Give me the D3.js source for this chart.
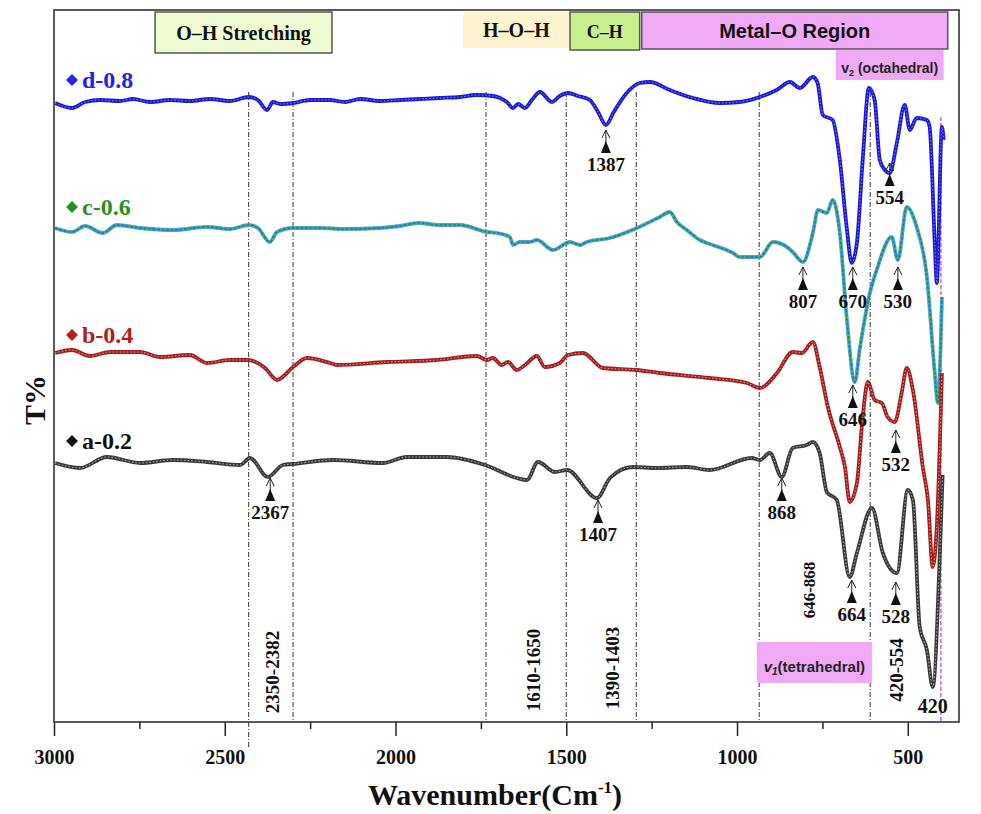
<!DOCTYPE html>
<html><head><meta charset="utf-8">
<script src="https://cdn.jsdelivr.net/npm/d3@7/dist/d3.min.js"></script>
<style>body{margin:0;background:#fff}svg{display:block}</style>
</head><body>
<svg id="chart" width="981" height="814"></svg>
<script>
// ---- data: [wavenumber (cm-1), T% (arbitrary offset units)] ----
const seriesD = [[2997,61.9],[2947,61.4],[2909,62.0],[2865,62.2],[2807,62.1],[2769,62.3],[2719,62.0],[2660,62.2],[2602,62.1],[2543,62.3],[2485,62.1],[2429,62.5],[2403,62.2],[2376,61.2],[2359,62.0],[2338,61.8],[2300,61.9],[2251,62.2],[2192,62.2],[2148,62.0],[2104,62.3],[2046,62.1],[1987,62.2],[1929,62.3],[1870,62.4],[1811,62.5],[1762,62.7],[1715,62.6],[1694,62.4],[1674,62.0],[1656,61.4],[1641,61.8],[1621,61.4],[1601,62.2],[1577,63.0],[1542,62.0],[1519,62.6],[1495,62.9],[1466,62.6],[1431,62.2],[1407,61.0],[1384,59.7],[1361,61.0],[1323,62.9],[1285,63.9],[1255,64.0],[1197,63.2],[1129,62.4],[1050,61.9],[992,62.0],[933,62.5],[884,63.2],[845,64.0],[816,63.4],[778,64.5],[764,63.9],[749,60.7],[720,60.2],[699,56.2],[679,49.5],[664,45.9],[649,47.9],[632,56.2],[614,63.4],[597,62.2],[582,56.2],[567,55.2],[553,54.9],[532,57.9],[509,61.7],[494,59.2],[474,60.4],[444,60.2],[436,59.5],[421,47.9],[415,43.9],[400,59.5],[395,58.2]];
const seriesC = [[2997,49.4],[2947,49.0],[2909,49.6],[2857,48.9],[2816,49.7],[2748,49.4],[2652,49.2],[2552,49.5],[2485,49.3],[2429,49.7],[2403,49.4],[2368,48.0],[2347,49.0],[2300,49.4],[2221,49.4],[2148,49.3],[2046,49.4],[1987,49.6],[1934,49.9],[1870,49.7],[1811,49.7],[1732,49.0],[1703,48.9],[1665,48.5],[1656,47.7],[1636,48.0],[1607,48.0],[1586,48.2],[1539,47.2],[1489,48.0],[1460,47.7],[1440,48.0],[1372,48.4],[1293,49.4],[1226,50.5],[1197,51.0],[1176,50.0],[1147,49.2],[1109,48.2],[1071,47.7],[1012,46.9],[992,46.5],[933,46.5],[895,48.0],[854,47.5],[837,47.0],[807,46.0],[778,48.9],[763,51.2],[737,50.9],[720,52.2],[699,48.9],[679,40.5],[655,34.0],[641,37.2],[611,42.9],[591,45.2],[547,48.5],[529,46.2],[503,51.5],[474,49.5],[444,44.5],[421,34.9],[412,31.9],[400,42.5]];
const seriesB = [[2997,36.9],[2947,37.2],[2895,36.6],[2836,37.0],[2748,37.0],[2690,36.5],[2602,36.7],[2552,35.9],[2485,36.2],[2432,36.2],[2382,35.4],[2347,34.2],[2300,35.5],[2259,36.4],[2192,35.9],[2172,35.7],[2025,36.0],[1879,36.2],[1762,36.6],[1732,36.2],[1715,36.4],[1689,35.7],[1671,36.0],[1645,35.2],[1621,35.7],[1586,36.6],[1563,35.5],[1519,35.9],[1495,36.7],[1451,36.9],[1393,35.4],[1293,35.2],[1226,34.9],[1080,34.4],[971,33.9],[933,33.4],[883,34.9],[837,37.0],[810,36.9],[778,38.0],[758,35.5],[734,31.5],[699,27.5],[684,25.5],[670,22.0],[649,23.9],[632,30.5],[617,34.0],[597,32.2],[576,31.9],[559,30.5],[538,30.0],[518,32.9],[503,35.4],[485,33.2],[456,25.5],[441,22.2],[427,15.5],[415,19.5],[400,34.9]];
const seriesA = [[2997,25.9],[2924,25.4],[2845,26.5],[2748,25.9],[2652,26.2],[2552,26.0],[2455,25.7],[2426,26.4],[2374,24.5],[2330,25.7],[2300,25.8],[2183,26.2],[2037,25.9],[1967,26.5],[1850,26.5],[1738,25.7],[1645,24.4],[1615,24.2],[1583,26.0],[1533,25.0],[1498,25.2],[1410,22.4],[1372,24.4],[1305,25.5],[1235,25.4],[1147,25.5],[1080,25.2],[957,26.4],[933,26.2],[904,26.9],[869,24.5],[837,27.4],[796,27.7],[778,28.0],[758,26.9],[737,23.0],[708,22.2],[670,14.5],[649,16.9],[605,21.4],[573,16.9],[532,14.9],[500,23.2],[485,22.2],[465,9.5],[444,7.2],[427,3.5],[406,16.9],[398,24.7]];

const seriesNames = ["d-0.8","c-0.6","b-0.4","a-0.2"];
const seriesLabelPos = [[2918,63.4],[2918,50.7],[2918,37.9],[2918,27.3]];
const majorTicks = [3000,2500,2000,1500,1000,500];
const minorTicks = [2750,2250,1750,1250,750];
const refLines = [2430,2300,1735,1500,1295,935,610];
const octLine = 403;
// peak annotations: [label, wavenumber, arrow-tip value]
const peaks = [["1387",1384,59.2],["554",553,55.9],["807",807,45.5],["670",661,45.5],["530",529,45.5],["646",661,33.7],["532",535,29.2],["868",869,24.4],["1407",1407,22.2],["2367",2367,24.4],["664",664,14.2],["528",535,14.0]];
const lone = [["420",427,0.9]];
const rangeLabels = [["2350-2382",2359,5.0],["1610-1650",1595,5.2],["1390-1403",1364,5.4],["646-868",787,13.2],["420-554",532,5.2]];
// band boxes: [label, w0, w1, vTop, vBottom]
const bands = [["O–H Stretching",2704,2186,71.0,66.9],["H–O–H",1803,1489,71.0,67.4],["C–H",1489,1285,71.0,67.2],["Metal–O Region",1279,383,71.0,67.3]];

const svg = d3.select("#chart");
svg.append("rect").attr("width",981).attr("height",814).attr("fill","#fff");
const x = d3.scaleLinear().domain([3000,350]).range([54,959]);
const y = d3.scaleLinear().domain([0,71.2]).range([722,10]);
const serif = "'Liberation Serif','Times New Roman',serif";
const sans = "'Liberation Sans',Arial,sans-serif";

// reference lines
svg.append("g").selectAll("line").data(refLines).join("line")
  .attr("x1",d=>x(d)).attr("x2",d=>x(d)).attr("y1",y(63)).attr("y2",(d,i)=>i===0?748:y(0))
  .attr("stroke","#333").attr("stroke-width",1).attr("stroke-dasharray","5,2,1,2");
svg.append("line").attr("x1",x(octLine)).attr("x2",x(octLine)).attr("y1",y(60.5)).attr("y2",y(0))
  .attr("stroke","#c24ee0").attr("stroke-width",1.3).attr("stroke-dasharray","4,2");

// band boxes
const bandFill = ["#effcd3","#fdf4cf","#c9ef8e","#efa9f5"];
const bandStroke = ["#555","none","#555","#555"];
const bandFont = [serif,serif,serif,sans];
const bandSize = [20,20,18,20];
const bg = svg.append("g");
bands.forEach((b,i)=>{
  bg.append("rect").attr("x",x(b[1])).attr("y",y(b[3])).attr("width",x(b[2])-x(b[1])).attr("height",y(b[4])-y(b[3]))
    .attr("fill",bandFill[i]).attr("stroke",bandStroke[i]).attr("stroke-width",1.5);
  bg.append("text").attr("x",(x(b[1])+x(b[2]))/2).attr("y",(y(b[3])+y(b[4]))/2+7)
    .attr("text-anchor","middle").attr("font-family",bandFont[i]).attr("font-weight","bold")
    .attr("font-size",bandSize[i]).attr("fill","#111").text(b[0]);
});
// v2 octahedral box
bg.append("rect").attr("x",x(711)).attr("y",y(67.2)).attr("width",x(395)-x(711)).attr("height",y(64.2)-y(67.2)).attr("fill","#efa9f5");
const t2 = bg.append("text").attr("x",(x(711)+x(395))/2).attr("y",y(64.9)).attr("text-anchor","middle")
  .attr("font-family",sans).attr("font-weight","bold").attr("font-size",14).attr("fill","#222");
t2.append("tspan").text("v");
t2.append("tspan").attr("font-size",9).attr("dy",3).text("2");
t2.append("tspan").attr("dy",-3).text(" (octahedral)");
// v1 tetrahedral box
bg.append("rect").attr("x",x(942)).attr("y",y(8.0)).attr("width",x(605)-x(942)).attr("height",y(3.9)-y(8.0)).attr("fill","#efa9f5");
const t1 = bg.append("text").attr("x",(x(942)+x(605))/2).attr("y",y(5.0)).attr("text-anchor","middle")
  .attr("font-family",sans).attr("font-weight","bold").attr("font-size",15).attr("fill","#222");
t1.append("tspan").attr("font-style","italic").text("v");
t1.append("tspan").attr("font-style","italic").attr("font-size",10).attr("dy",3).text("1");
t1.append("tspan").attr("dy",-3).text("(tetrahedral)");

// curves
const line = d3.line().x(d=>x(d[0])).y(d=>y(d[1])).curve(d3.curveMonotoneX);
const all = [seriesD,seriesC,seriesB,seriesA];
const outer = ["#1818d8","#45a2e4","#a41c1c","#383838"];
const inner = ["#8a8af8","#2b8a2b","#eaa0a0","#b8b8b8"];
const innerW = [1,1.6,1,1];
const innerDash = ["1.5,2","3,1.5","1.5,2","1.5,2"];
const labelCol = ["#2323e6","#239223","#b01e1e","#111"];
const cg = svg.append("g");
all.forEach((s,i)=>{
  cg.append("path").attr("d",line(s)).attr("fill","none").attr("stroke",outer[i]).attr("stroke-width",3.8).attr("stroke-linejoin","round");
  cg.append("path").attr("d",line(s)).attr("fill","none").attr("stroke",inner[i]).attr("stroke-width",innerW[i])
    .attr("stroke-dasharray",innerDash[i]);
});

// series labels
seriesNames.forEach((n,i)=>{
  const p = seriesLabelPos[i];
  svg.append("path").attr("d",d3.symbol(d3.symbolDiamond2,90)())
    .attr("transform",`translate(${x(p[0])-10},${y(p[1])-8})`).attr("fill",labelCol[i]);
  svg.append("text").attr("x",x(p[0])).attr("y",y(p[1])).attr("font-family",serif).attr("font-weight","bold")
    .attr("font-size",24).attr("fill",labelCol[i]).text(n);
});

// peak arrows
const pg = svg.append("g");
peaks.forEach(p=>{
  const g = pg.append("g").attr("transform",`translate(${x(p[1])},${y(p[2])})`);
  g.append("path").attr("d","M-4,8L0,0L4,8M0,0L0,13").attr("fill","none").attr("stroke","#222").attr("stroke-width",1);
  g.append("path").attr("d","M-5,23L0,11L5,23Z").attr("fill","#111");
  g.append("text").attr("x",0).attr("y",41).attr("text-anchor","middle").attr("font-family",serif)
    .attr("font-weight","bold").attr("font-size",19).attr("fill","#111").text(p[0]);
});
lone.forEach(p=>{
  pg.append("text").attr("x",x(p[1])).attr("y",y(p[2])).attr("text-anchor","middle").attr("font-family",serif)
    .attr("font-weight","bold").attr("font-size",20).attr("fill","#111").text(p[0]);
});
// rotated range labels
rangeLabels.forEach((r,i)=>{
  svg.append("text").attr("transform",`translate(${x(r[1])},${y(r[2])}) rotate(-90)`)
    .attr("text-anchor","middle").attr("dominant-baseline","central").attr("font-family",serif)
    .attr("font-weight","bold").attr("font-size",r[0]==="646-868"?17:19).attr("fill","#111").text(r[0]);
});

// axes
const ax = svg.append("g").attr("transform","translate(0,722)")
  .call(d3.axisBottom(x).tickValues(majorTicks).tickSize(14).tickFormat(d3.format("d")));
ax.select(".domain").remove();
ax.selectAll(".tick line").attr("stroke","#222").attr("stroke-width",1.5);
ax.selectAll(".tick text").attr("y",42).attr("dy",null).attr("font-family",serif).attr("font-weight","bold")
  .attr("font-size",20).attr("fill","#111");
const axm = svg.append("g").attr("transform","translate(0,722)")
  .call(d3.axisBottom(x).tickValues(minorTicks).tickSize(7).tickFormat(""));
axm.select(".domain").remove();
axm.selectAll(".tick line").attr("stroke","#222").attr("stroke-width",1.5);

// frame
svg.append("rect").attr("x",54).attr("y",10).attr("width",905).attr("height",712)
  .attr("fill","none").attr("stroke","#333").attr("stroke-width",1.6);

// titles
const xt = svg.append("text").attr("x",495).attr("y",805).attr("text-anchor","middle").attr("font-family",serif)
  .attr("font-weight","bold").attr("font-size",30).attr("fill","#111");
xt.append("tspan").text("Wavenumber(Cm");
xt.append("tspan").attr("font-size",17).attr("dy",-12).text("-1");
xt.append("tspan").attr("dy",12).text(")");
svg.append("text").attr("transform","translate(34,400) rotate(-90)").attr("text-anchor","middle")
  .attr("dominant-baseline","central").attr("font-family",serif).attr("font-weight","bold")
  .attr("font-size",30).attr("fill","#111").text("T%");
</script>
</body></html>
